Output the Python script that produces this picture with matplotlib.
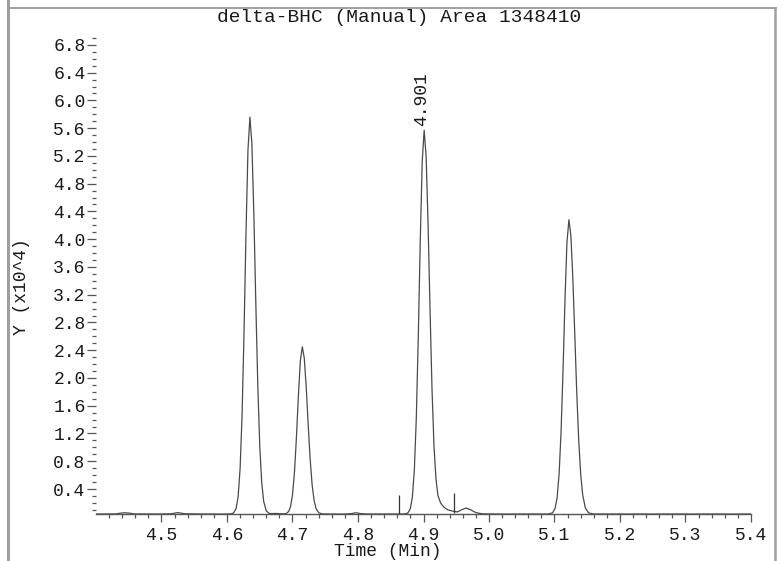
import matplotlib
matplotlib.use("Agg")
import matplotlib.pyplot as plt
from matplotlib.lines import Line2D
from matplotlib.ticker import FixedLocator, NullFormatter

# ---- data (signal in units of x10^4) ----
time = [4.400, 4.430, 4.437, 4.444, 4.451, 4.458, 4.500, 4.515, 4.525, 4.535, 4.560, 4.600, 4.606,
        4.610, 4.614, 4.617, 4.620, 4.623, 4.626, 4.629, 4.632, 4.635,
        4.638, 4.641, 4.644, 4.647, 4.650, 4.653, 4.656, 4.660, 4.665, 4.675, 4.685,
        4.690, 4.694, 4.697, 4.700, 4.703, 4.706, 4.709, 4.712, 4.715,
        4.718, 4.721, 4.724, 4.727, 4.730, 4.733, 4.736, 4.740, 4.745, 4.760,
        4.780, 4.790, 4.797, 4.804, 4.815, 4.850, 4.870,
        4.876, 4.880, 4.883, 4.886, 4.889, 4.892, 4.895, 4.898, 4.901,
        4.904, 4.907, 4.910, 4.913, 4.916, 4.919, 4.922, 4.926, 4.931, 4.937, 4.945,
        4.952, 4.958, 4.965, 4.972, 4.980, 4.990, 5.020, 5.060, 5.090,
        5.097, 5.101, 5.104, 5.107, 5.110, 5.113, 5.116, 5.119, 5.122,
        5.125, 5.128, 5.131, 5.134, 5.137, 5.140, 5.143, 5.147, 5.152, 5.160,
        5.200, 5.300, 5.400]
signal = [0.040, 0.041, 0.052, 0.058, 0.052, 0.041, 0.040, 0.044, 0.060, 0.044, 0.040, 0.040, 0.042,
          0.054, 0.121, 0.292, 0.692, 1.464, 2.660, 4.084, 5.285, 5.760,
          5.371, 4.359, 3.077, 1.899, 1.024, 0.495, 0.222, 0.083, 0.045, 0.048, 0.042,
          0.046, 0.074, 0.146, 0.315, 0.640, 1.144, 1.744, 2.250, 2.450,
          2.286, 1.860, 1.320, 0.823, 0.455, 0.232, 0.117, 0.058, 0.042, 0.040,
          0.040, 0.046, 0.058, 0.046, 0.040, 0.040, 0.040,
          0.053, 0.119, 0.283, 0.670, 1.417, 2.573, 3.950, 5.111, 5.570,
          5.194, 4.215, 2.976, 1.837, 1.020, 0.550, 0.310, 0.200, 0.140, 0.100, 0.080,
          0.070, 0.100, 0.126, 0.100, 0.060, 0.042, 0.040, 0.040, 0.040,
          0.056, 0.124, 0.278, 0.612, 1.219, 2.105, 3.118, 3.954, 4.280,
          4.051, 3.436, 2.614, 1.783, 1.096, 0.612, 0.319, 0.129, 0.056, 0.040,
          0.040, 0.040, 0.040]

peak_label = "4.901"
peak_label_time = 4.901
peak_label_height = 5.570
marker_times = [4.863, 4.947]
marker_bottoms = [0.040, 0.060]
marker_tops = [0.310, 0.345]

x_major = [4.5, 4.6, 4.7, 4.8, 4.9, 5.0, 5.1, 5.2, 5.3, 5.4]
x_major_labels = ["4.5", "4.6", "4.7", "4.8", "4.9", "5.0", "5.1", "5.2", "5.3", "5.4"]
x_minor = [4.42, 4.44, 4.46, 4.48, 4.52, 4.54, 4.56, 4.58, 4.62, 4.64, 4.66, 4.68,
           4.72, 4.74, 4.76, 4.78, 4.82, 4.84, 4.86, 4.88, 4.92, 4.94, 4.96, 4.98,
           5.02, 5.04, 5.06, 5.08, 5.12, 5.14, 5.16, 5.18, 5.22, 5.24, 5.26, 5.28,
           5.32, 5.34, 5.36, 5.38]
y_major = [0.4, 0.8, 1.2, 1.6, 2.0, 2.4, 2.8, 3.2, 3.6, 4.0, 4.4, 4.8, 5.2, 5.6, 6.0, 6.4, 6.8]
y_major_labels = ["0.4", "0.8", "1.2", "1.6", "2.0", "2.4", "2.8", "3.2", "3.6", "4.0",
                  "4.4", "4.8", "5.2", "5.6", "6.0", "6.4", "6.8"]
y_minor = [0.1, 0.2, 0.3, 0.5, 0.6, 0.7, 0.9, 1.0, 1.1, 1.3, 1.4, 1.5, 1.7, 1.8, 1.9,
           2.1, 2.2, 2.3, 2.5, 2.6, 2.7, 2.9, 3.0, 3.1, 3.3, 3.4, 3.5, 3.7, 3.8, 3.9,
           4.1, 4.2, 4.3, 4.5, 4.6, 4.7, 4.9, 5.0, 5.1, 5.3, 5.4, 5.5, 5.7, 5.8, 5.9,
           6.1, 6.2, 6.3, 6.5, 6.6, 6.7, 6.9]

title = "delta-BHC (Manual) Area 1348410"
xlabel = "Time (Min)"
ylabel = "Y (x10^4)"

# ---- figure ----
W, H = 783, 561
FONT = "Liberation Mono"
TXT = "#1a1a1a"
fig = plt.figure(figsize=(W / 100, H / 100), dpi=100)
ax = fig.add_axes([96 / W, 47 / H, 655 / W, 483 / H])
ax.set_xlim(4.4, 5.4)
ax.set_ylim(0.04, 7.0)

ax.plot(time, signal, color="#4a4a4a", lw=0.9, solid_joinstyle="round")
ax.vlines(marker_times, marker_bottoms, marker_tops, color="#333333", lw=0.9)
ax.annotate(peak_label, xy=(peak_label_time, peak_label_height), xytext=(-2, 3),
            textcoords="offset points", rotation=90, ha="center", va="bottom",
            fontfamily=FONT, fontsize=13, color=TXT)

for s in ("top", "right", "left"):
    ax.spines[s].set_visible(False)
ax.spines["bottom"].set_color("#555555")
ax.spines["bottom"].set_linewidth(1.0)

ax.xaxis.set_major_locator(FixedLocator(x_major))
ax.xaxis.set_minor_locator(FixedLocator(x_minor))
ax.set_xticklabels(x_major_labels)
ax.yaxis.set_major_locator(FixedLocator(y_major))
ax.yaxis.set_minor_locator(FixedLocator(y_minor))
ax.set_yticklabels(y_major_labels)
ax.xaxis.set_minor_formatter(NullFormatter())
ax.yaxis.set_minor_formatter(NullFormatter())

ax.tick_params(axis="x", which="major", direction="out", length=6, width=0.9,
               color="#555555", pad=3, labelsize=13, labelcolor=TXT)
ax.tick_params(axis="x", which="minor", direction="out", length=3, width=0.9, color="#555555")
ax.tick_params(axis="y", which="major", direction="out", length=6.5, width=0.9,
               color="#555555", pad=1, labelsize=13, labelcolor=TXT)
ax.tick_params(axis="y", which="minor", direction="out", length=3, width=0.9, color="#555555")
for lab in ax.get_xticklabels() + ax.get_yticklabels():
    lab.set_fontfamily(FONT)

fig.text(399 / W, 1 - 17 / H, title, ha="center", va="center", fontfamily=FONT,
         fontsize=14, color=TXT)
fig.text(388 / W, 1 - 552 / H, xlabel, ha="center", va="center", fontfamily=FONT,
         fontsize=13, color=TXT)
fig.text(22 / W, 1 - 287 / H, ylabel, ha="center", va="center", rotation=90,
         fontfamily=FONT, fontsize=13, color=TXT)

# gray frame lines
GRAY = "#a0a0a0"
fig.add_artist(Line2D([8 / W, 8 / W], [0, 1], transform=fig.transFigure, color=GRAY, lw=2.2))
fig.add_artist(Line2D([8 / W, 776 / W], [1 - 7.5 / H, 1 - 7.5 / H], transform=fig.transFigure,
                      color=GRAY, lw=1.4))
fig.add_artist(Line2D([775 / W, 775 / W], [0, 1 - 7.5 / H], transform=fig.transFigure,
                      color=GRAY, lw=1.8))

fig.savefig("out.png", dpi=100)
